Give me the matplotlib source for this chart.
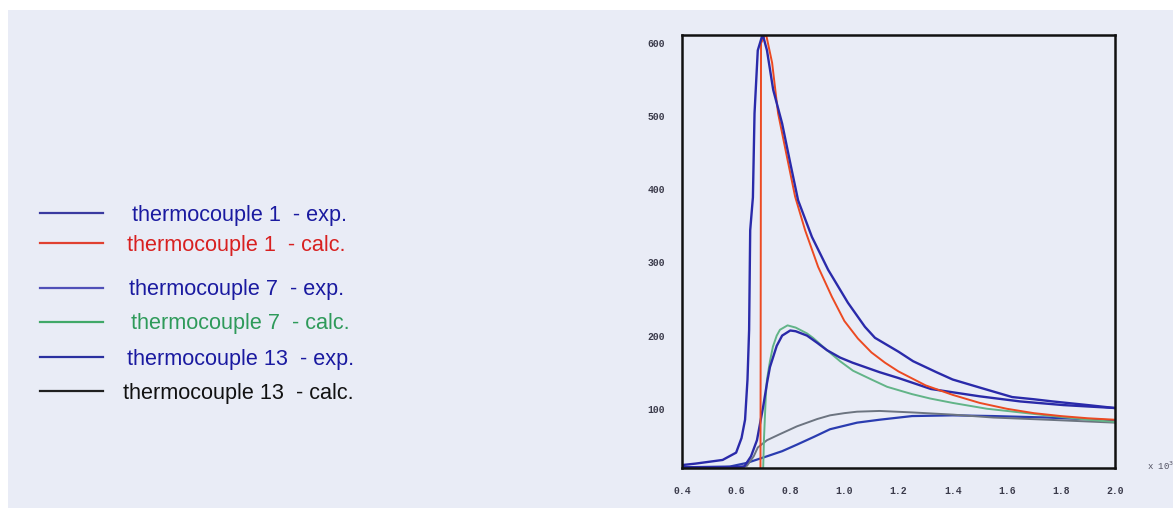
import matplotlib
matplotlib.use("Agg")
import matplotlib.pyplot as plt
from matplotlib.lines import Line2D
from matplotlib.patches import Rectangle

# time (x 10^3) and temperature values
tc1_exp_x = [0.40, 0.45, 0.55, 0.60, 0.62, 0.633, 0.642, 0.648, 0.652, 0.662, 0.668,
             0.68, 0.698, 0.714, 0.737, 0.77, 0.80, 0.829, 0.88, 0.94, 1.013, 1.076,
             1.113, 1.20, 1.254, 1.34, 1.40, 1.50, 1.62, 1.70, 1.77, 1.90, 2.0]
tc1_exp_y = [23, 25, 30, 40, 60, 85, 140, 208, 344, 389, 504,
             590, 612, 590, 536, 490, 436, 385, 335, 290, 245, 212,
             197, 178, 165, 150, 140, 129, 116, 113, 110, 105, 101]

tc1_calc_x = [0.690, 0.691, 0.692, 0.71, 0.733, 0.755, 0.788, 0.818, 0.855, 0.903, 0.954,
              1.0, 1.05, 1.1, 1.15, 1.2, 1.3, 1.4, 1.5, 1.6, 1.7, 1.8, 1.9, 2.0]
tc1_calc_y = [19, 300, 600, 613, 573, 504, 444, 390, 344, 294, 253,
              220, 196, 177, 163, 151, 132, 119, 108, 100, 94, 90, 87, 85]

tc7_exp_x = [0.40, 0.55, 0.63, 0.655, 0.677, 0.70, 0.714, 0.725, 0.75, 0.77, 0.80,
             0.82, 0.862, 0.90, 0.936, 0.984, 1.03, 1.13, 1.20, 1.32, 1.50, 1.65, 1.81, 2.0]
tc7_exp_y = [20, 20, 21, 35, 57, 103, 135, 157, 186, 200, 207,
             206, 200, 190, 180, 170, 163, 150, 142, 127, 117, 110, 105, 101]

tc7_calc_x = [0.700, 0.703, 0.710, 0.714, 0.725, 0.736, 0.75, 0.762, 0.79, 0.82, 0.862,
              0.884, 0.936, 0.984, 1.032, 1.10, 1.158, 1.25, 1.317, 1.40, 1.527, 1.65,
              1.77, 1.9, 2.0]
tc7_calc_y = [19, 60, 120, 140, 165, 185, 200, 208, 214, 211, 203,
              197, 180, 165, 152, 140, 130, 120, 114, 108, 100, 95,
              90, 85, 82]

tc13_exp_x = [0.40, 0.577, 0.64, 0.714, 0.77, 0.825, 0.89, 0.947, 1.047, 1.13, 1.25,
              1.40, 1.55, 1.75, 2.0]
tc13_exp_y = [20, 21, 26, 35, 42, 51, 62, 72, 81, 85, 90, 91, 90, 88, 84]

tc13_calc_x = [0.60, 0.64, 0.665, 0.68, 0.714, 0.76, 0.825, 0.90, 0.947, 1.0, 1.047,
               1.13, 1.25, 1.40, 1.55, 1.75, 2.0]
tc13_calc_y = [19, 22, 35, 47, 57, 65, 76, 86, 91, 94, 96, 97, 95, 92, 88, 85, 81]

x_ticks = [0.4, 0.6, 0.8, 1.0, 1.2, 1.4, 1.6, 1.8, 2.0]
y_ticks = [100, 200, 300, 400, 500, 600]

legend_labels = ["thermocouple 1  - exp.", "thermocouple 1  - calc.",
                 "thermocouple 7  - exp.", "thermocouple 7  - calc.",
                 "thermocouple 13  - exp.", "thermocouple 13  - calc."]

bg = "#e9ecf6"
W, H = 1173, 508

fig = plt.figure(figsize=(W / 100, H / 100), dpi=100)
fig.patch.set_facecolor("white")
fig.patches.append(Rectangle((8 / W, 0), 1, 1 - 10 / H, transform=fig.transFigure,
                             facecolor=bg, edgecolor="none", zorder=-10))

ax = fig.add_axes([682 / W, 1 - 468 / H, (1115 - 682) / W, (468 - 35) / H])
ax.set_zorder(5)
ax.set_facecolor(bg)

ax.plot(tc13_exp_x, tc13_exp_y, color="#2a3cb0", lw=1.6)
ax.plot(tc13_calc_x, tc13_calc_y, color="#6c7480", lw=1.4)
ax.plot(tc7_calc_x, tc7_calc_y, color="#62b488", lw=1.4)
ax.plot(tc7_exp_x, tc7_exp_y, color="#2a2aa8", lw=1.7)
ax.plot(tc1_calc_x, tc1_calc_y, color="#ec4a22", lw=1.4)
ax.plot(tc1_exp_x, tc1_exp_y, color="#2a2aaa", lw=1.7)

ax.set_xlim(0.4, 2.0)
ax.set_ylim(19, 611)
ax.set_xticks(x_ticks)
ax.set_xticklabels([f"{v:.1f}" for v in x_ticks])
ax.set_yticks(y_ticks)
ax.tick_params(length=0, labelsize=7, labelcolor="#3a3a4a")
ax.tick_params(axis="y", pad=12)
ax.tick_params(axis="x", pad=13)
for lab in ax.get_xticklabels() + ax.get_yticklabels():
    lab.set_family("Liberation Mono")
    lab.set_weight("bold")
for s in ax.spines.values():
    s.set_linewidth(1.8)
    s.set_color("#111111")

fig.text(1147 / W, 1 - 466 / H, r"x 10$^3$", fontsize=6.5, color="#505060",
         family="Liberation Mono", va="center")

# hand-placed legend, like the scanned figure
line_colors = ["#3a3aa0", "#e04030", "#5050b8", "#40a868", "#2a30a0", "#202020"]
text_colors = ["#1a1aa0", "#d82020", "#1a1aa0", "#2e9a5a", "#1a1aa0", "#111111"]
rows_y = [212, 242, 287, 321, 356, 390]
text_x = [132, 127, 129, 131, 127, 123]
for lab, lc, tc, ry, tx in zip(legend_labels, line_colors, text_colors, rows_y, text_x):
    fig.add_artist(Line2D([40 / W, 103 / W], [1 - (ry + 1) / H] * 2, color=lc, lw=1.6,
                          transform=fig.transFigure))
    fig.text(tx / W, 1 - (ry + 3) / H, lab, fontsize=15.6, color=tc,
             family="Liberation Sans", va="center")

fig.savefig("out.png", dpi=100, facecolor=fig.get_facecolor())
